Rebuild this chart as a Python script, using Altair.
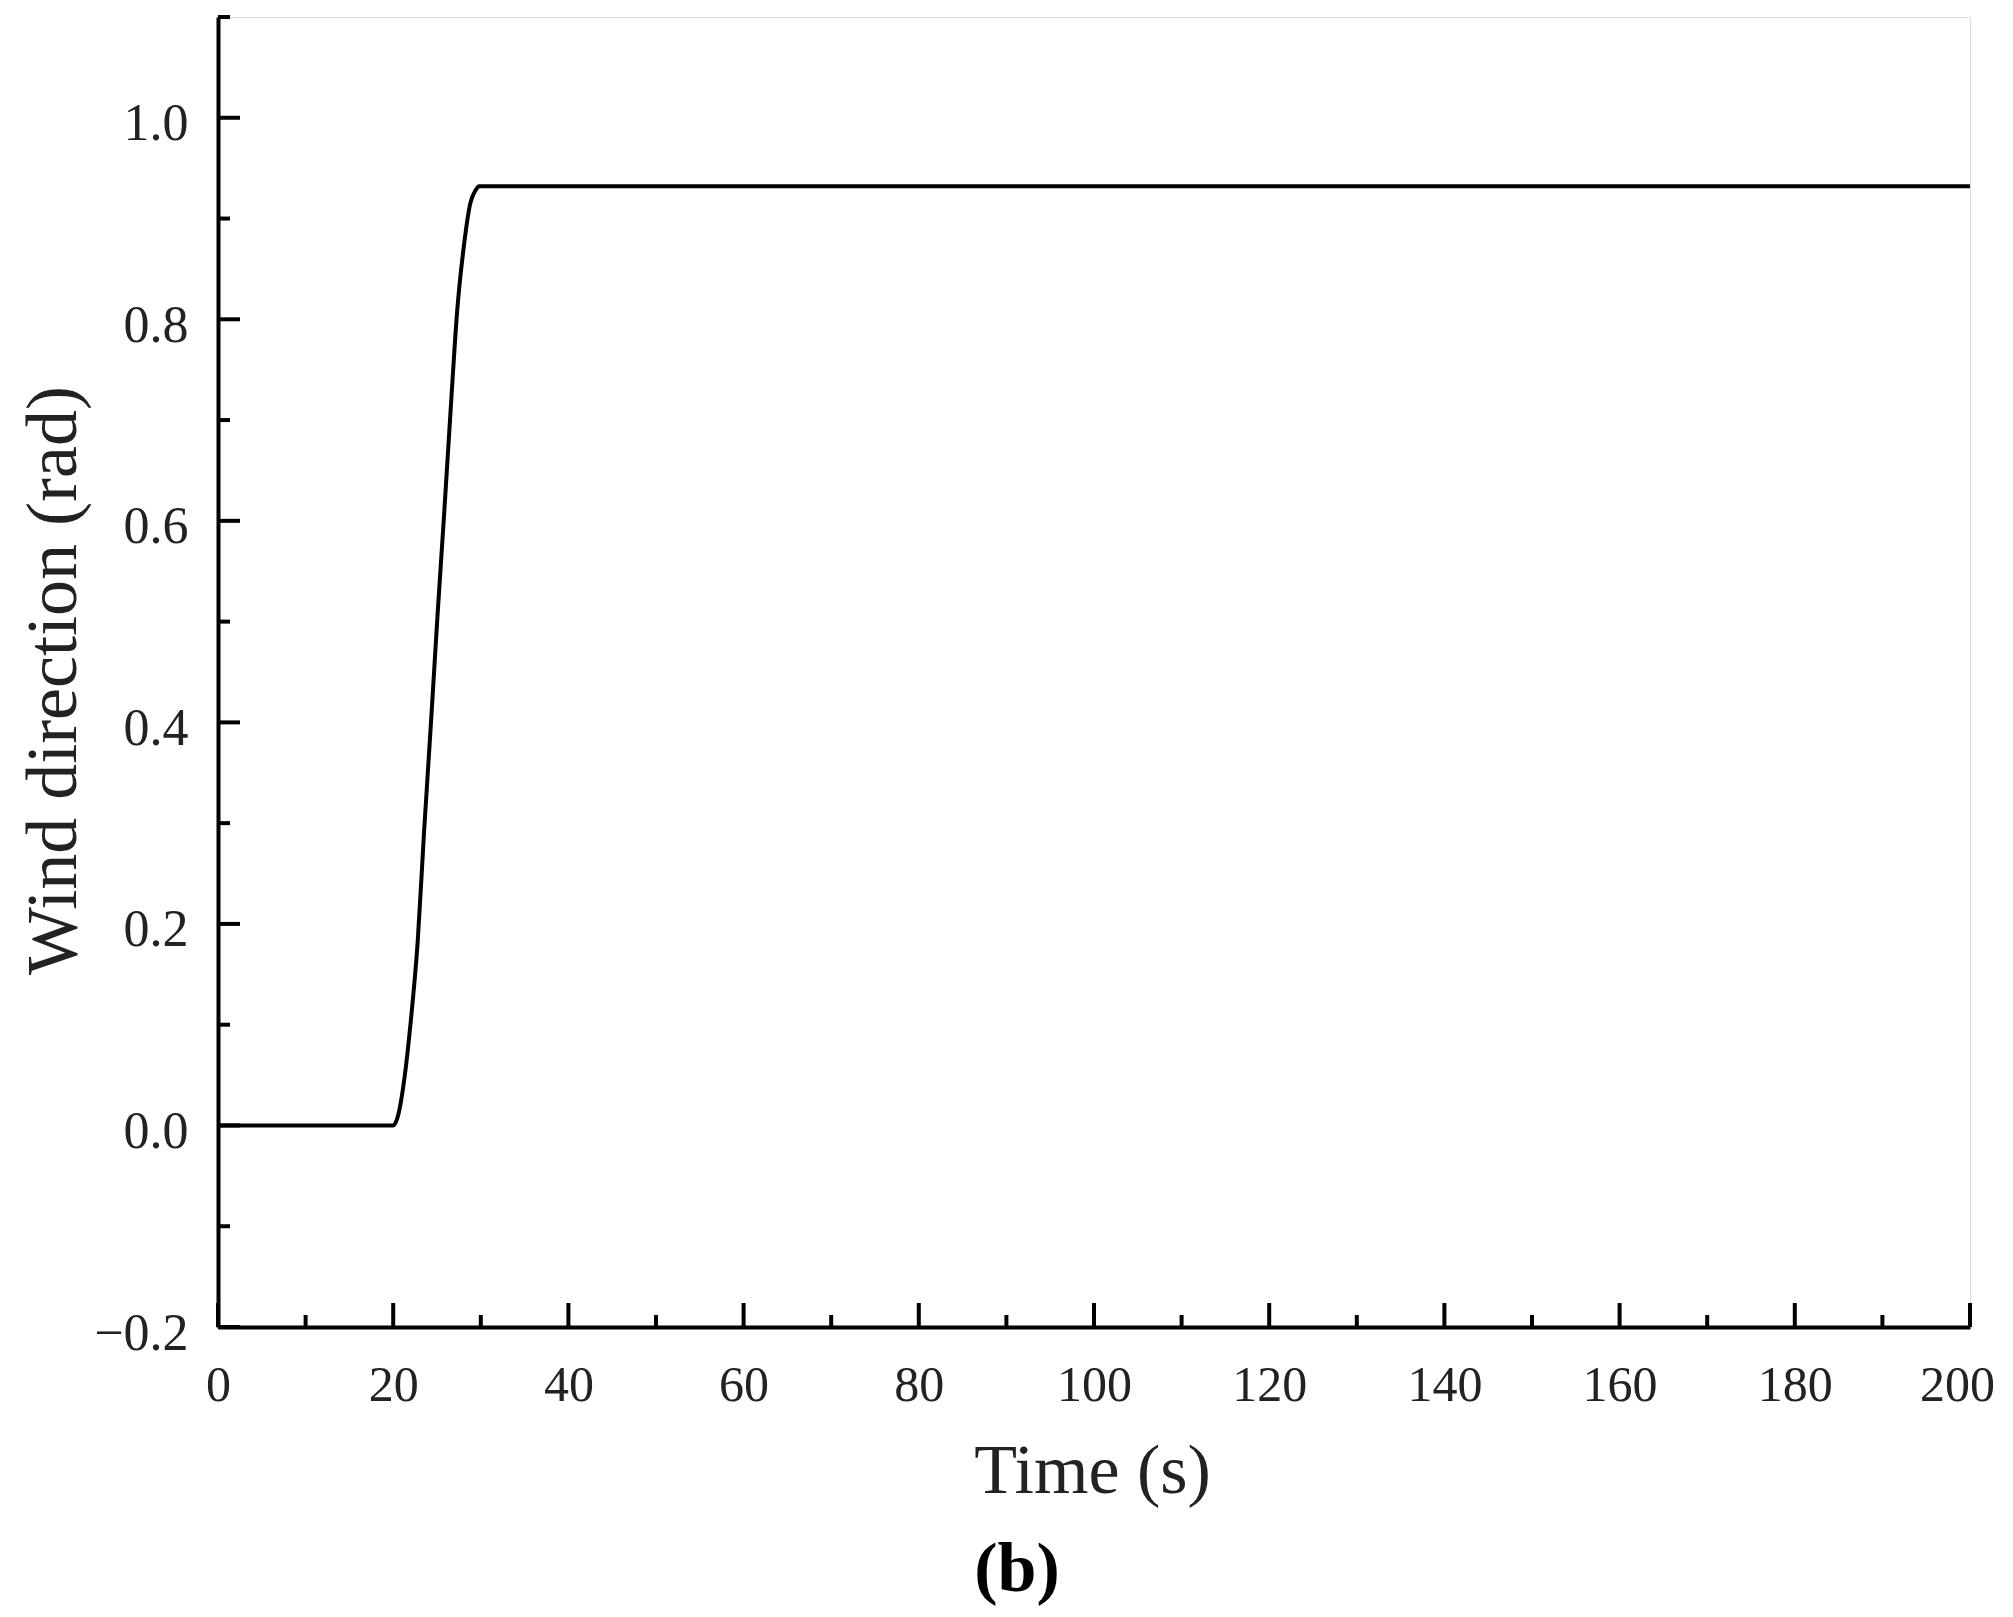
import altair as alt
import pandas as pd

# Series
time_s = [0, 20, 20.5, 21.3, 22.0, 22.8, 23.5, 24.3, 25.05, 25.8, 26.6, 27.3, 28.1, 28.8, 29.4, 29.8, 30, 200]
wind_dir = [0, 0, 0.008, 0.048, 0.103, 0.183, 0.288, 0.398, 0.505, 0.605, 0.716, 0.808, 0.875, 0.915, 0.928, 0.932, 0.932, 0.932]

# Axis tick values
x_major = [0, 20, 40, 60, 80, 100, 120, 140, 160, 180, 200]
x_minor = [10, 30, 50, 70, 90, 110, 130, 150, 170, 190]
y_major = [-0.2, 0.0, 0.2, 0.4, 0.6, 0.8, 1.0]
y_minor = [-0.1, 0.1, 0.3, 0.5, 0.7, 0.9, 1.1]

W, H = 1752, 1310
LABEL_FONT = "Liberation Serif"

df = pd.DataFrame({"t": time_s, "v": wind_dir})
xs = alt.Scale(domain=[0, 200], nice=False, zero=False)
ys = alt.Scale(domain=[-0.2, 1.1], nice=False, zero=False)

line = alt.Chart(df).mark_line(color="black", strokeWidth=4, interpolate="monotone").encode(
    x=alt.X("t:Q", scale=xs, axis=alt.Axis(
        title="Time (s)", values=x_major, format="d", ticks=False, tickSize=0, grid=False,
        domainColor="black", domainWidth=4, labelPadding=33, labelFontSize=50,
        labelOffset={"condition": {"test": "datum.value >= 200", "value": -13}, "value": 0},
        labelFont=LABEL_FONT, labelColor="#222", titleFont=LABEL_FONT, titleFontSize=70,
        titleFontWeight="normal", titleColor="#222", titleX=874, titleY=165,
        titleBaseline="alphabetic", titleAlign="center", labelFlush=False)),
    y=alt.Y("v:Q", scale=ys, axis=alt.Axis(
        title="Wind direction (rad)", values=y_major, format=".1f", ticks=False, tickSize=0,
        grid=False, domainColor="black", domainWidth=4, labelPadding=30, labelFontSize=52,
        labelFont=LABEL_FONT, labelColor="#222", labelOffset=6, titleFont=LABEL_FONT,
        titleFontSize=72, titleFontWeight="normal", titleColor="#222", titleX=-143,
        titleY=663, titleAngle=270, titleBaseline="alphabetic", titleAlign="center",
        labelFlush=False)),
)

def yticks(vals, length):
    d = pd.DataFrame({"v": vals})
    return alt.Chart(d).mark_rule(color="black", strokeWidth=4).encode(
        y=alt.Y("v:Q", scale=ys), x=alt.value(0), x2=alt.value(length))

def xticks(vals, length):
    d = pd.DataFrame({"t": vals})
    return alt.Chart(d).mark_rule(color="black", strokeWidth=4).encode(
        x=alt.X("t:Q", scale=xs), y=alt.value(H), y2=alt.value(H - length))

chart = alt.layer(
    line,
    yticks(y_major, 22), yticks(y_minor, 12),
    xticks(x_major, 24), xticks(x_minor, 12),
).properties(
    width=W, height=H,
    autosize=alt.AutoSizeParams(type="none"),
    padding={"left": 210, "top": 9, "right": 27, "bottom": 282},
    title=alt.TitleParams(text="(b)", orient="bottom", anchor="middle", frame="group",
                          dx=-77, offset=30, font=LABEL_FONT, fontSize=70,
                          fontWeight="bold", color="black"),
).configure_view(stroke=None).configure(background="white")

chart.save("out.html", embed_options={"renderer": "svg", "actions": False})
